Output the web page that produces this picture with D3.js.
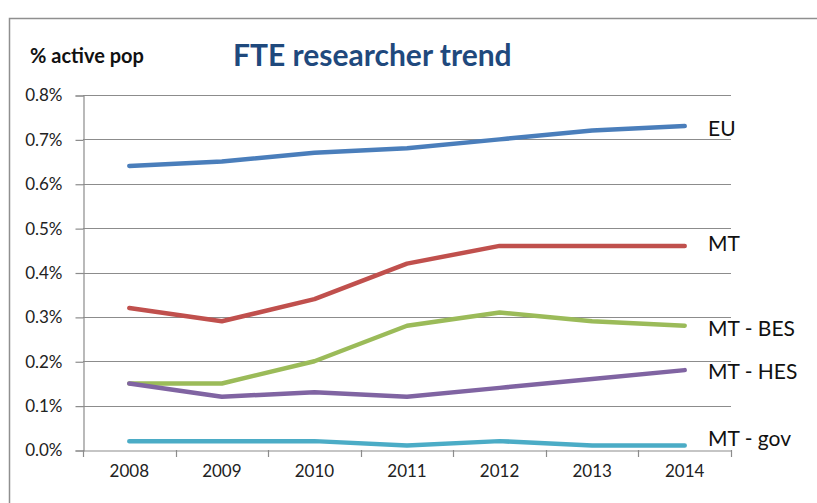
<!DOCTYPE html>
<html>
<head>
<meta charset="utf-8">
<script src="https://cdn.jsdelivr.net/npm/d3@7"></script>
<style>
  body { margin: 0; background: #fff; }
  svg { display: block; font-family: Lato, "Open Sans", sans-serif; }
</style>
</head>
<body>
<div id="chart"></div>
<script>
var years = ["2008", "2009", "2010", "2011", "2012", "2013", "2014"];
var yTicks = [0, 0.001, 0.002, 0.003, 0.004, 0.005, 0.006, 0.007, 0.008];

var euValues = [0.0064, 0.0065, 0.0067, 0.0068, 0.0070, 0.0072, 0.0073];
var mtValues = [0.0032, 0.0029, 0.0034, 0.0042, 0.0046, 0.0046, 0.0046];
var besValues = [0.0015, 0.0015, 0.0020, 0.0028, 0.0031, 0.0029, 0.0028];
var hesValues = [0.0015, 0.0012, 0.0013, 0.0012, 0.0014, 0.0016, 0.0018];
var govValues = [0.0002, 0.0002, 0.0002, 0.0001, 0.0002, 0.0001, 0.0001];

var seriesNames = ["EU", "MT", "MT - BES", "MT - HES", "MT - gov"];
var seriesColors = ["#4a7ebb", "#c0504d", "#9bbb59", "#8064a2", "#4bacc6"];
// label nudges so they sit like the original
var labelDy = [10, 5, 10, 9, 0];

var series = [euValues, mtValues, besValues, hesValues, govValues].map(function(v, i) {
  return { name: seriesNames[i], color: seriesColors[i], values: v, dy: labelDy[i] };
});

var svgWidth = 817;
var svgHeight = 503;

var svg = d3.select("#chart")
  .append("svg")
  .attr("width", svgWidth)
  .attr("height", svgHeight);

// chart frame (cut by the window on the right and bottom)
svg.append("path")
  .attr("d", "M9.5,503 V18.5 H817")
  .attr("fill", "none")
  .attr("stroke", "#8f8f8f")
  .attr("stroke-width", 1.5);

var plotLeft = 83, plotRight = 731, plotTop = 95, plotBottom = 450;

var x = d3.scaleBand().domain(years).range([plotLeft, plotRight]);
var y = d3.scaleLinear().domain([0, 0.008]).range([plotBottom, plotTop]);

// gridlines
svg.append("g")
  .selectAll("line")
  .data(yTicks.slice(1))
  .enter()
  .append("line")
  .attr("x1", plotLeft)
  .attr("x2", plotRight)
  .attr("y1", d => Math.round(y(d)) + 0.5)
  .attr("y2", d => Math.round(y(d)) + 0.5)
  .attr("stroke", "#8c8c8c")
  .attr("stroke-width", 1.2);

var yAxis = svg.append("g")
  .attr("transform", `translate(${plotLeft + 0.5},0.5)`)
  .call(d3.axisLeft(y).tickValues(yTicks).tickSize(8).tickPadding(13)
    .tickFormat(d3.format(".1%")));
yAxis.select(".domain").attr("stroke", "#8c8c8c").attr("stroke-width", 1.2);
yAxis.selectAll(".tick line").attr("stroke", "#8c8c8c").attr("stroke-width", 1.2);
yAxis.selectAll("text")
  .attr("font-family", "Lato, sans-serif")
  .attr("font-size", 17)
  .attr("fill", "#222");

var xAxis = svg.append("g")
  .attr("transform", `translate(0,${plotBottom + 0.5})`)
  .call(d3.axisBottom(x).tickSize(0).tickPadding(14));
xAxis.select(".domain").attr("stroke", "#8c8c8c").attr("stroke-width", 1.2);
xAxis.selectAll("text")
  .attr("font-family", "Lato, sans-serif")
  .attr("font-size", 17)
  .attr("fill", "#222");

// category boundary ticks
svg.append("g")
  .selectAll("line")
  .data(years.concat(["end"]))
  .enter()
  .append("line")
  .attr("x1", (d, i) => Math.round(plotLeft + i * x.step()) + 0.5)
  .attr("x2", (d, i) => Math.round(plotLeft + i * x.step()) + 0.5)
  .attr("y1", plotBottom)
  .attr("y2", plotBottom + 7)
  .attr("stroke", "#8c8c8c")
  .attr("stroke-width", 1.2);

var line = d3.line()
  .x((d, i) => x(years[i]) + x.bandwidth() / 2)
  .y(d => y(d));

svg.append("g")
  .selectAll("path")
  .data(series)
  .enter()
  .append("path")
  .attr("d", d => line(d.values))
  .attr("fill", "none")
  .attr("stroke", d => d.color)
  .attr("stroke-width", 4.5)
  .attr("stroke-linejoin", "round")
  .attr("stroke-linecap", "round");

svg.append("g")
  .selectAll("text")
  .data(series)
  .enter()
  .append("text")
  .attr("x", 708)
  .attr("y", d => y(d.values[d.values.length - 1]) + d.dy)
  .attr("font-family", "Lato, sans-serif")
  .attr("font-size", 21)
  .attr("fill", "#111")
  .text(d => d.name);

svg.append("text")
  .attr("x", 30)
  .attr("y", 63)
  .attr("font-size", 20)
  .attr("font-weight", "bold")
  .attr("fill", "#111")
  .text("% active pop");

svg.append("text")
  .attr("x", 233)
  .attr("y", 66)
  .attr("font-size", 30)
  .attr("font-weight", "bold")
  .attr("fill", "#1f497d")
  .text("FTE researcher trend");
</script>
</body>
</html>
